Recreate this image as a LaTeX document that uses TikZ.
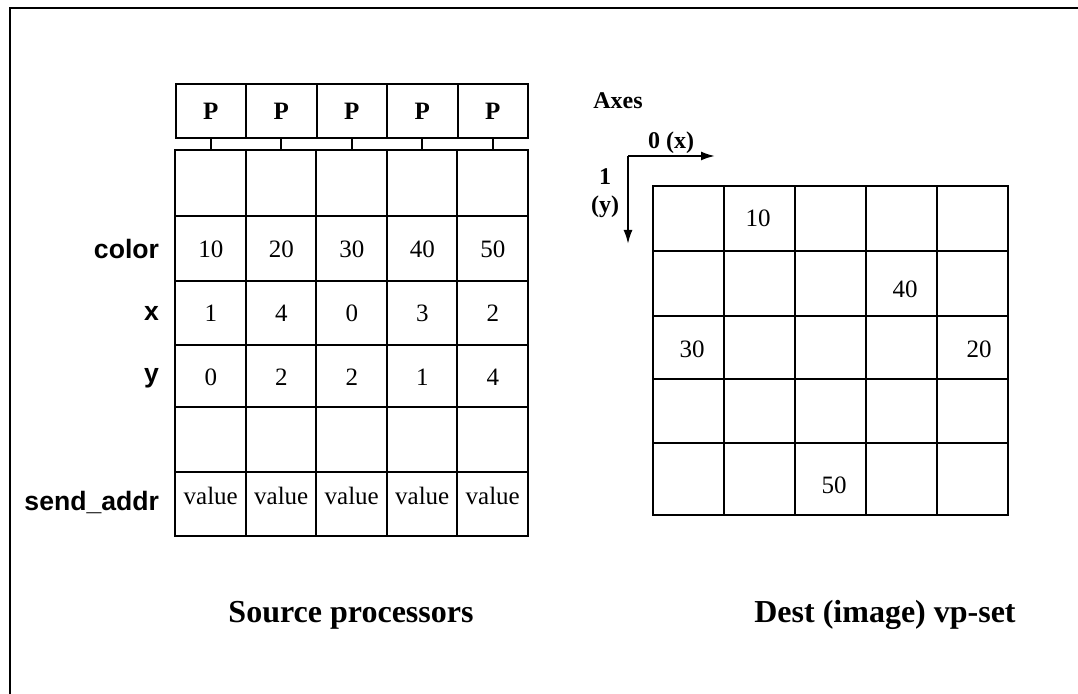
\documentclass[tikz,border=0pt]{standalone}
\usepackage{fontspec}
\setmainfont{Liberation Serif}
\setsansfont{Liberation Sans}
\usetikzlibrary{arrows.meta}

\begin{document}
\begin{tikzpicture}[x=0.5pt, y=-0.5pt, line width=1pt,
    pbox/.style={draw, minimum width=35.25pt, minimum height=27pt, inner sep=0pt,
        font=\bfseries\fontsize{12.5}{13}\selectfont},
    rowlabel/.style={anchor=east, inner sep=0pt,
        font=\sffamily\bfseries\fontsize{13.3}{14}\selectfont},
    cell/.style={inner sep=0pt, font=\fontsize{12.5}{13}\selectfont},
    axislabel/.style={inner sep=0pt, align=center,
        font=\bfseries\fontsize{12}{14}\selectfont},
    caption/.style={font=\bfseries\fontsize{16}{18}\selectfont},
    axis/.style={-{Latex[length=7pt,width=4.5pt]}}]
    \useasboundingbox (0,0) rectangle (1078,694);
    %\draw[lightgray] (0,0) grid[step=100] (1078,694);
    \draw (10,694) -- (10,8) -- (1078,8);

    % processors and the source table
    \foreach \i in {0,...,4} {
        \node[pbox] (p\i) at ({210.75+70.5*\i},111) {P};
        \coordinate (t\i) at ({210.75+70.5*\i},150);
        \draw (p\i.south) -- (t\i);
    }
    \draw (175,150) rectangle (528,536);
    \foreach \y in {216,281,345,407,472}
        \draw (175,\y) -- (528,\y);
    \foreach \x in {245.5,316,386.5,457}
        \draw (\x,150) -- (\x,536);

    \node[rowlabel] (lcolor) at (160,249) {color};
    \node[rowlabel] (lx) at (160,313) {x};
    \node[rowlabel] (ly) at (160,378) {y};
    \node[rowlabel] (lsend) at (160,502) {send\_addr};

    \foreach \c/\xv/\yv [count=\i from 0] in {10/1/0,20/4/2,30/0/2,40/3/1,50/2/4} {
        \node[cell] (c\i) at ({210.75+70.5*\i},249) {\c};
        \node[cell] (x\i) at ({210.75+70.5*\i},313) {\xv};
        \node[cell] (y\i) at ({210.75+70.5*\i},377) {\yv};
        \node[cell, anchor=base] (v\i) at ({210.75+70.5*\i},505) {value};
    }

    % destination grid
    \draw (653,186) rectangle (1008,515);
    \foreach \y in {251,316,379,443}
        \draw (653,\y) -- (1008,\y);
    \foreach \x in {724,795,866,937}
        \draw (\x,186) -- (\x,515);
    \node[cell] (d10) at (758,218) {10};
    \node[cell] (d40) at (905,289) {40};
    \node[cell] (d30) at (692,349) {30};
    \node[cell] (d20) at (979,349) {20};
    \node[cell] (d50) at (834,485) {50};

    % axes
    \node[axislabel] (axes) at (618,101) {Axes};
    \coordinate (o) at (628,156);
    \coordinate (xe) at (715,156);
    \coordinate (ye) at (628,244);
    \draw[axis] (o) -- (xe);
    \draw[axis] (o) -- (ye);
    \node[axislabel] (xl) at (671,143) {0 (x)};
    \node[axislabel] (yl) at (605,193) {1\\(y)};

    \node[caption] (src) at (351,615) {Source processors};
    \node[caption] (dst) at (885,615) {Dest (image) vp-set};
\end{tikzpicture}
\end{document}
